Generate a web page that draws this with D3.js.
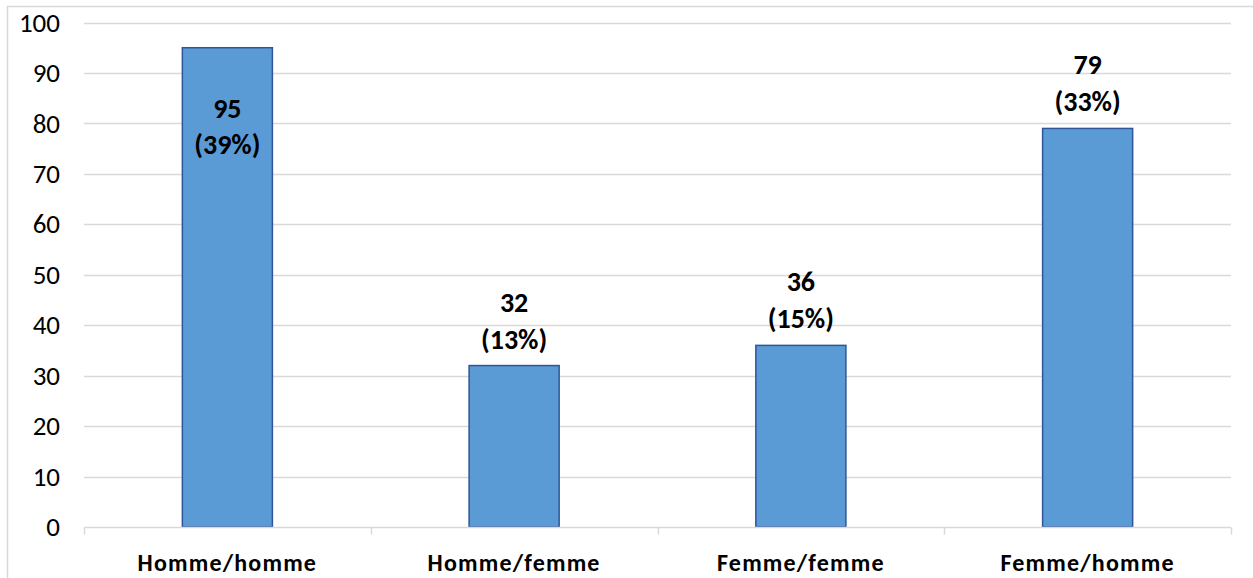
<!DOCTYPE html>
<html>
<head>
<meta charset="utf-8">
<script src="https://cdn.jsdelivr.net/npm/d3@7"></script>
<style>
  html, body { margin: 0; padding: 0; background: #fff; }
  svg { display: block; font-family: Carlito, Calibri, Lato, "Open Sans", sans-serif; }
  .y-axis text { font-size: 27px; fill: #000; }
</style>
</head>
<body>
<svg id="chart" width="1253" height="578"></svg>
<script>
// Répartition des couples
const categories = ["Homme/homme", "Homme/femme", "Femme/femme", "Femme/homme"];
const counts = [95, 32, 36, 79];
const yTicks = [0, 10, 20, 30, 40, 50, 60, 70, 80, 90, 100];

const W = 1253, H = 578;
const margin = { left: 84, right: 22, top: 22.5, bottom: 51 };
const svg = d3.select("#chart");

// outer frame
svg.append("rect")
  .attr("x", 7.5).attr("y", 6.5)
  .attr("width", W + 10).attr("height", H + 10)
  .attr("fill", "none").attr("stroke", "#d9d9d9").attr("stroke-width", 1.5);

const x = d3.scaleBand()
  .domain(categories)
  .range([margin.left, W - margin.right])
  .paddingInner(0.686).paddingOuter(0.343);

const xOuter = d3.scaleBand()
  .domain(categories)
  .range([margin.left, W - margin.right]);

const y = d3.scaleLinear()
  .domain([0, 100])
  .range([H - margin.bottom, margin.top]);

// gridlines
svg.append("g")
  .selectAll("line")
  .data(yTicks.filter(d => d > 0))
  .join("line")
  .attr("x1", margin.left).attr("x2", W - margin.right)
  .attr("y1", d => Math.round(y(d)) + 0.5).attr("y2", d => Math.round(y(d)) + 0.5)
  .attr("stroke", "#d9d9d9").attr("stroke-width", 1.5);

// y axis labels
const yAxis = d3.axisLeft(y).tickValues(yTicks).tickSize(0).tickPadding(0);
svg.append("g")
  .attr("class", "y-axis")
  .attr("transform", `translate(${margin.left - 24},0)`)
  .call(yAxis)
  .attr("font-family", null)
  .attr("font-size", null)
  .call(g => g.select(".domain").remove());

// bars
const total = d3.sum(counts);
const data = categories.map((c, i) => ({ cat: c, value: counts[i], pct: Math.round(counts[i] / total * 100) }));

svg.append("g")
  .selectAll("rect")
  .data(data)
  .join("rect")
  .attr("x", d => x(d.cat))
  .attr("y", d => y(d.value))
  .attr("width", x.bandwidth())
  .attr("height", d => y(0) - y(d.value))
  .attr("fill", "#5b9bd5")
  .attr("stroke", "#2f5597")
  .attr("stroke-width", 1.5);

// x axis line with category separators
const x0 = Math.round(y(0)) + 0.5;
svg.append("line")
  .attr("x1", margin.left).attr("x2", W - margin.right)
  .attr("y1", x0).attr("y2", x0)
  .attr("stroke", "#d9d9d9").attr("stroke-width", 1.5);
const seps = categories.map(c => xOuter(c)).concat([W - margin.right]);
svg.append("g")
  .selectAll("line")
  .data(seps)
  .join("line")
  .attr("x1", d => Math.round(d) + 0.5).attr("x2", d => Math.round(d) + 0.5)
  .attr("y1", x0).attr("y2", x0 + 7)
  .attr("stroke", "#d9d9d9").attr("stroke-width", 1.5);

// category labels
svg.append("g")
  .selectAll("text")
  .data(categories)
  .join("text")
  .attr("x", d => xOuter(d) + xOuter.bandwidth() / 2)
  .attr("y", 571)
  .attr("text-anchor", "middle")
  .attr("font-size", 24)
  .attr("letter-spacing", 1.2)
  .attr("font-weight", "bold")
  .attr("fill", "#000")
  .text(d => d);

// value labels: above the bar, or inside when there is no room
const labels = svg.append("g")
  .selectAll("text")
  .data(data)
  .join("text")
  .attr("text-anchor", "middle")
  .attr("font-size", 28)
  .attr("font-weight", "bold")
  .attr("fill", "#000");

labels.each(function(d) {
  const cx = x(d.cat) + x.bandwidth() / 2;
  const top = y(d.value);
  const inside = top - 60 < y(100);
  const b1 = inside ? top + 70 : top - 54;
  const b2 = inside ? top + 106 : top - 17;
  const t = d3.select(this);
  t.append("tspan").attr("x", cx).attr("y", b1).text(d.value);
  t.append("tspan").attr("x", cx).attr("y", b2).text(`(${d.pct}%)`);
});
</script>
</body>
</html>
